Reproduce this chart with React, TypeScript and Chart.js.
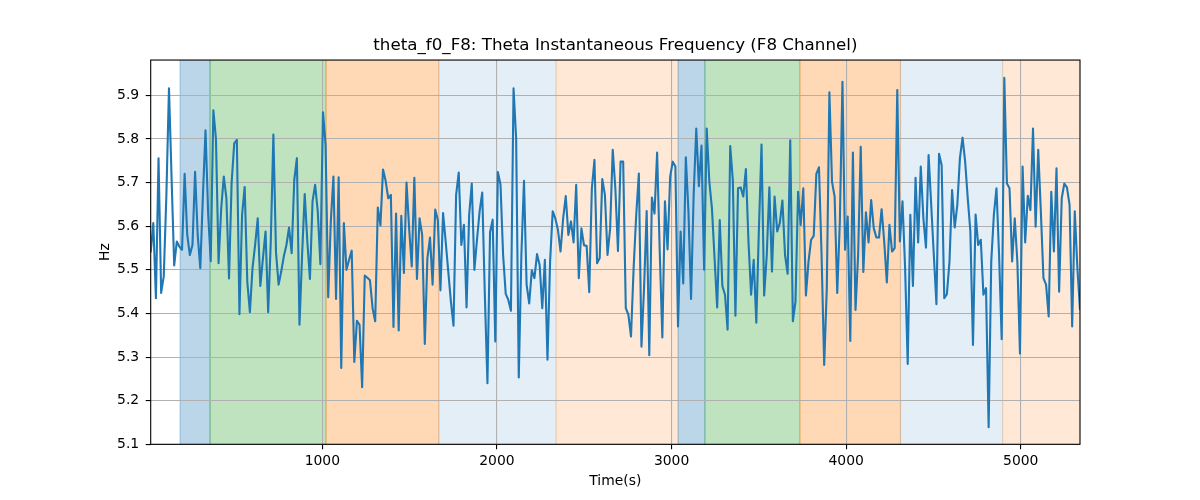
import { useEffect, useRef } from "react"
import { Chart, registerables } from "chart.js"
import type { Plugin } from "chart.js"

Chart.register(...registerables)

// sampling grid of the theta f0 track (seconds)
const START_S = 17
const STEP_S = 14.95

// instantaneous frequency
const hz = [
  5.54, 5.607, 5.435, 5.756, 5.447, 5.485, 5.67, 5.916, 5.71, 5.51, 5.565, 5.553, 5.546, 5.72, 5.58, 5.534, 5.557,
  5.725, 5.58, 5.504, 5.67, 5.82, 5.63, 5.52, 5.866, 5.8, 5.515, 5.64, 5.714, 5.664, 5.48, 5.7, 5.79, 5.798, 5.398,
  5.626, 5.69, 5.473, 5.403, 5.504, 5.557, 5.618, 5.463, 5.527, 5.588, 5.403, 5.565, 5.81, 5.54, 5.466, 5.496,

  5.531, 5.557, 5.597, 5.538, 5.706, 5.756, 5.374, 5.534, 5.674, 5.565, 5.479, 5.657, 5.695, 5.634, 5.513, 5.861,
  5.786, 5.437, 5.611, 5.714, 5.433, 5.712, 5.275, 5.607, 5.5, 5.523, 5.544, 5.289, 5.383, 5.374, 5.231, 5.487,
  5.482, 5.476, 5.412, 5.382, 5.643, 5.602, 5.73, 5.704, 5.664, 5.672, 5.369, 5.629, 5.361, 5.624, 5.493, 5.7,
  5.595, 5.508,

  5.711, 5.479, 5.618, 5.58, 5.33, 5.527, 5.574, 5.466, 5.638, 5.614, 5.453, 5.63, 5.565, 5.496, 5.427, 5.372,
  5.672, 5.723, 5.557, 5.603, 5.414, 5.626, 5.698, 5.5, 5.569, 5.634, 5.677, 5.443, 5.24, 5.586, 5.615, 5.336,
  5.724, 5.696, 5.534, 5.445, 5.431, 5.406, 5.916, 5.8, 5.253, 5.534, 5.704, 5.466, 5.423, 5.499, 5.481, 5.536,
  5.511, 5.412,

  5.523, 5.294, 5.519, 5.634, 5.618, 5.592, 5.542, 5.618, 5.669, 5.58, 5.611, 5.563, 5.695, 5.481, 5.595, 5.556,
  5.555, 5.449, 5.687, 5.752, 5.515, 5.527, 5.708, 5.672, 5.534, 5.595, 5.775, 5.687, 5.543, 5.748, 5.748, 5.412,
  5.397, 5.347, 5.504, 5.626, 5.721, 5.324, 5.458, 5.635, 5.304, 5.666, 5.629, 5.769, 5.542, 5.345, 5.657, 5.547,
  5.714,

  5.748, 5.737, 5.37, 5.588, 5.469, 5.758, 5.634, 5.433, 5.672, 5.824, 5.692, 5.785, 5.5, 5.824, 5.702, 5.641,
  5.527, 5.414, 5.614, 5.463, 5.443, 5.363, 5.784, 5.706, 5.395, 5.687, 5.689, 5.668, 5.731, 5.565, 5.443, 5.523,
  5.379, 5.595, 5.787, 5.441, 5.534, 5.689, 5.496, 5.668, 5.588, 5.607, 5.659, 5.534, 5.491, 5.797, 5.382, 5.427,
  5.679, 5.603,

  5.687, 5.441, 5.519, 5.569, 5.578, 5.72, 5.735, 5.534, 5.282, 5.458, 5.907, 5.702, 5.668, 5.447, 5.611, 5.931,
  5.546, 5.622, 5.337, 5.769, 5.408, 5.534, 5.782, 5.495, 5.632, 5.563, 5.66, 5.595, 5.574, 5.574, 5.639, 5.565,
  5.471, 5.603, 5.542, 5.55, 5.912, 5.565, 5.657, 5.504, 5.284, 5.626, 5.463, 5.711, 5.563, 5.737, 5.618, 5.551,
  5.763,

  5.649, 5.534, 5.421, 5.766, 5.74, 5.435, 5.444, 5.519, 5.683, 5.597, 5.649, 5.756, 5.803, 5.748, 5.664, 5.588,
  5.328, 5.627, 5.557, 5.569, 5.443, 5.458, 5.139, 5.519, 5.626, 5.687, 5.534, 5.341, 5.94, 5.698, 5.687, 5.519,
  5.618, 5.519, 5.308, 5.737, 5.563, 5.67, 5.637, 5.824, 5.599, 5.775, 5.634, 5.481, 5.466, 5.393, 5.679, 5.542,
  5.733, 5.45, 5.664, 5.698, 5.689, 5.649, 5.37, 5.634, 5.504, 5.408,
]

const times = hz.map((_, i) => START_S + i * STEP_S)

const xTicks = [1000, 2000, 3000, 4000, 5000]
const yTicks = [5.1, 5.2, 5.3, 5.4, 5.5, 5.6, 5.7, 5.8, 5.9]

// shaded segments (seconds)
const bandStarts = [185, 357, 1021, 1667, 2339, 3038, 3191, 3735, 4311, 4896]
const bandEnds = [357, 1021, 1667, 2339, 3038, 3191, 3735, 4311, 4896, 5341]
const bandKinds = ["blue", "green", "orange", "paleBlue", "paleOrange", "blue", "green", "orange", "paleBlue", "paleOrange"]

const bandFill: Record<string, string> = {
  blue: "rgba(31, 119, 180, 0.3)",
  green: "rgba(44, 160, 44, 0.3)",
  orange: "rgba(255, 127, 14, 0.3)",
  paleBlue: "rgba(31, 119, 180, 0.12)",
  paleOrange: "rgba(255, 127, 14, 0.17)",
}

const FONT = "'DejaVu Sans', 'Liberation Sans', sans-serif"

const bandsPlugin: Plugin<"line"> = {
  id: "bands",
  beforeDraw(chart) {
    const { ctx, chartArea, scales } = chart
    const xs = scales.x
    ctx.save()
    ctx.beginPath()
    ctx.rect(chartArea.left, chartArea.top, chartArea.width, chartArea.height)
    ctx.clip()
    bandStarts.forEach((start, i) => {
      const x0 = xs.getPixelForValue(start)
      const x1 = xs.getPixelForValue(bandEnds[i])
      const c = bandFill[bandKinds[i]]
      ctx.fillStyle = c
      ctx.fillRect(x0, chartArea.top, x1 - x0, chartArea.height)
      ctx.strokeStyle = c
      ctx.lineWidth = 1.2
      ctx.beginPath()
      ctx.moveTo(x0, chartArea.top)
      ctx.lineTo(x0, chartArea.bottom)
      ctx.moveTo(x1, chartArea.top)
      ctx.lineTo(x1, chartArea.bottom)
      ctx.stroke()
    })
    ctx.restore()
  },
  afterDraw(chart) {
    // matplotlib-like frame on all four sides
    const { ctx, chartArea } = chart
    ctx.save()
    ctx.strokeStyle = "#000"
    ctx.lineWidth = 1.1
    ctx.strokeRect(chartArea.left, chartArea.top, chartArea.width, chartArea.height)
    ctx.restore()
  },
}

export default function App() {
  const chartRef = useRef<HTMLCanvasElement>(null)
  const chartInstance = useRef<Chart | null>(null)

  useEffect(() => {
    if (!chartRef.current) return
    if (chartInstance.current) chartInstance.current.destroy()

    const ctx = chartRef.current.getContext("2d")
    if (!ctx) return

    chartInstance.current = new Chart(ctx, {
      type: "line",
      data: {
        datasets: [
          {
            label: "theta_f0_F8",
            data: times.map((t, i) => ({ x: t, y: hz[i] })),
            borderColor: "#1f77b4",
            borderWidth: 2.1,
            borderJoinStyle: "round",
            pointRadius: 0,
            tension: 0,
          },
        ],
      },
      options: {
        animation: false,
        responsive: true,
        maintainAspectRatio: false,
        layout: { padding: { left: 0, right: 120, top: 0, bottom: 0 } },
        plugins: {
          legend: { display: false },
          tooltip: { enabled: false },
          title: {
            display: true,
            fullSize: false,
            text: "theta_f0_F8: Theta Instantaneous Frequency (F8 Channel)",
            color: "#000",
            font: { family: FONT, size: 16.7, weight: "normal", lineHeight: 1.2 },
            padding: { top: 36, bottom: 4 },
          },
        },
        scales: {
          x: {
            type: "linear",
            min: times[0],
            max: times[times.length - 1],
            afterBuildTicks: (s) => {
              s.ticks = xTicks.map((v) => ({ value: v }))
            },
            afterFit: (s) => {
              s.height = 55.7
            },
            border: { display: false },
            grid: { color: "#b0b0b0", lineWidth: 1.1, tickColor: "#000", tickLength: 5 },
            ticks: {
              autoSkip: false,
              maxRotation: 0,
              padding: 3.5,
              color: "#000",
              font: { family: FONT, size: 13.9 },
              callback: (v) => String(v),
            },
            title: {
              display: true,
              text: "Time(s)",
              color: "#000",
              font: { family: FONT, size: 13.9 },
              padding: { top: 0, bottom: 10.5 },
            },
          },
          y: {
            min: 5.1,
            max: 5.981,
            afterBuildTicks: (s) => {
              s.ticks = yTicks.map((v) => ({ value: v }))
            },
            afterFit: (s) => {
              s.width = 150.7
            },
            border: { display: false },
            grid: { color: "#b0b0b0", lineWidth: 1.1, tickColor: "#000", tickLength: 5 },
            ticks: {
              autoSkip: false,
              padding: 6.5,
              color: "#000",
              font: { family: FONT, size: 13.9 },
              callback: (v) => Number(v).toFixed(1),
            },
            title: {
              display: true,
              text: "Hz",
              color: "#000",
              font: { family: FONT, size: 13.9 },
              padding: { top: 96.6, bottom: 0 },
            },
          },
        },
      },
      plugins: [bandsPlugin],
    })

    return () => {
      if (chartInstance.current) {
        chartInstance.current.destroy()
        chartInstance.current = null
      }
    }
  }, [])

  return (
    <div style={{ position: "fixed", left: 0, top: 0, width: 1200, height: 500, background: "#fff" }}>
      <canvas ref={chartRef} />
    </div>
  )
}
